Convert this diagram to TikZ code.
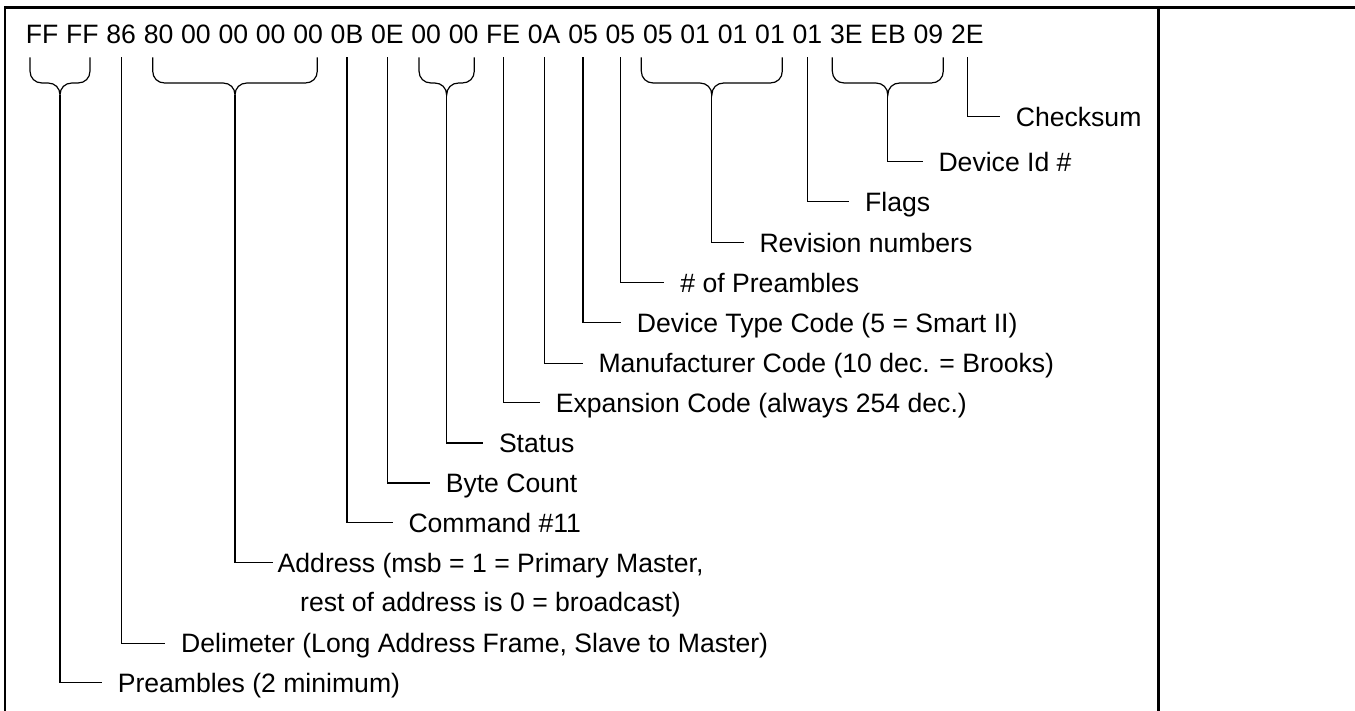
\documentclass[tikz,border=0pt]{standalone}
\usepackage{fontspec}
\setmainfont{Liberation Sans}

% curly brace under a group of bytes: left x, right x, name of the cusp coordinate
\newcommand\hexbrace[3]{%
  \pgfmathsetmacro\bmid{(#1+#2)/2}%
  \draw[conn] (#1,57.3) -- (#1,71)
    .. controls (#1,78) and (#1+5,83) .. (#1+12,83)
    -- (\bmid-12,83)
    .. controls (\bmid-5,83) and (\bmid,88) .. (\bmid,95)
    .. controls (\bmid,88) and (\bmid+5,83) .. (\bmid+12,83)
    -- (#2-12,83)
    .. controls (#2-5,83) and (#2,78) .. (#2,71) -- (#2,57.3);
  \coordinate (#3) at (\bmid,95);
}

\begin{document}
\begin{tikzpicture}[x=1pt,y=-1pt,
  font=\fontsize{26.6pt}{32pt}\selectfont,
  frame/.style={line width=2.4pt,line join=miter},
  conn/.style={line width=1.2pt},
  byte/.style={inner sep=0pt,anchor=base west,text height=19pt,text depth=0pt,outer ysep=14pt},
  lbl/.style={inner sep=0pt,anchor=west,text height=19pt,text depth=0pt,outer xsep=16pt}]
\useasboundingbox (0,0) rectangle (1355,711);

% table rules
\draw[frame] (5,711) -- (5,7.5) -- (1355,7.5);
\draw[frame] (1158.5,7.5) -- (1158.5,711);

% the frame bytes
\node[byte] (b0) at (25.6,43.3) {FF};
\foreach \t [count=\i from 1, remember=\i as \j (initially 0)] in
  {FF,86,80,00,00,00,00,0B,0E,00,00,FE,0A,05,05,05,01,01,01,01,3E,EB,09,2E}
  \node[byte] (b\i) at ([xshift=7.4pt]b\j.base east) {\t};

% braces over byte groups
\hexbrace{30}{90}{cPre}
\hexbrace{152.7}{317.3}{cAddr}
\hexbrace{419}{474.3}{cStat}
\hexbrace{641.3}{782.3}{cRev}
\hexbrace{832.3}{943.3}{cId}

% field descriptions
\node[lbl] (chk)    at (999.8,116.7) {Checksum};
\node[lbl] (devid)  at (922.5,161.7) {Device Id \#};
\node[lbl] (flags)  at (849.2,201.7) {Flags};
\node[lbl] (rev)    at (743.5,242.7) {Revision numbers};
\node[lbl] (npre)   at (664.4,282.7) {\# of Preambles};
\node[lbl] (dtype)  at (620.8,322.7) {Device Type Code (5 = Smart II)};
\node[lbl] (manu)   at (582.5,363.3) {Manufacturer Code (10 dec. = Brooks)};
\node[lbl] (expc)   at (539.8,402.7) {Expansion Code (always 254 dec.)};
\node[lbl] (stat)   at (483,443)     {Status};
\node[lbl] (bcount) at (429.8,483)   {Byte Count};
\node[lbl] (cmd)    at (392.5,522.7) {Command \#11};
\node[lbl,outer xsep=5pt] (addr1) at (272.7,562.7) {Address (msb = 1 = Primary Master,};
\node[inner sep=0pt,anchor=base] (addr2) at ([yshift=-39.5pt]addr1.base) {rest of address is 0 = broadcast)};
\node[lbl] (delim)  at (165.2,643.3) {Delimeter (Long Address Frame, Slave to Master)};
\node[lbl] (pre)    at (101.8,682.7) {Preambles (2 minimum)};

% leaders from bytes to descriptions
\draw[conn] (b24.south) |- (chk.west);
\draw[conn] (cId) |- (devid.west);
\draw[conn] (b20.south) |- (flags.west);
\draw[conn] (cRev) |- (rev.west);
\draw[conn] (b15.south) |- (npre.west);
\draw[conn] (b14.south) |- (dtype.west);
\draw[conn] (b13.south) |- (manu.west);
\draw[conn] (b12.south) |- (expc.west);
\draw[conn] (cStat) |- (stat.west);
\draw[conn] (b9.south) |- (bcount.west);
\draw[conn] (b8.south) |- (cmd.west);
\draw[conn] (cAddr) |- (addr1.west);
\draw[conn] (b2.south) |- (delim.west);
\draw[conn] (cPre) |- (pre.west);
\end{tikzpicture}
\end{document}
